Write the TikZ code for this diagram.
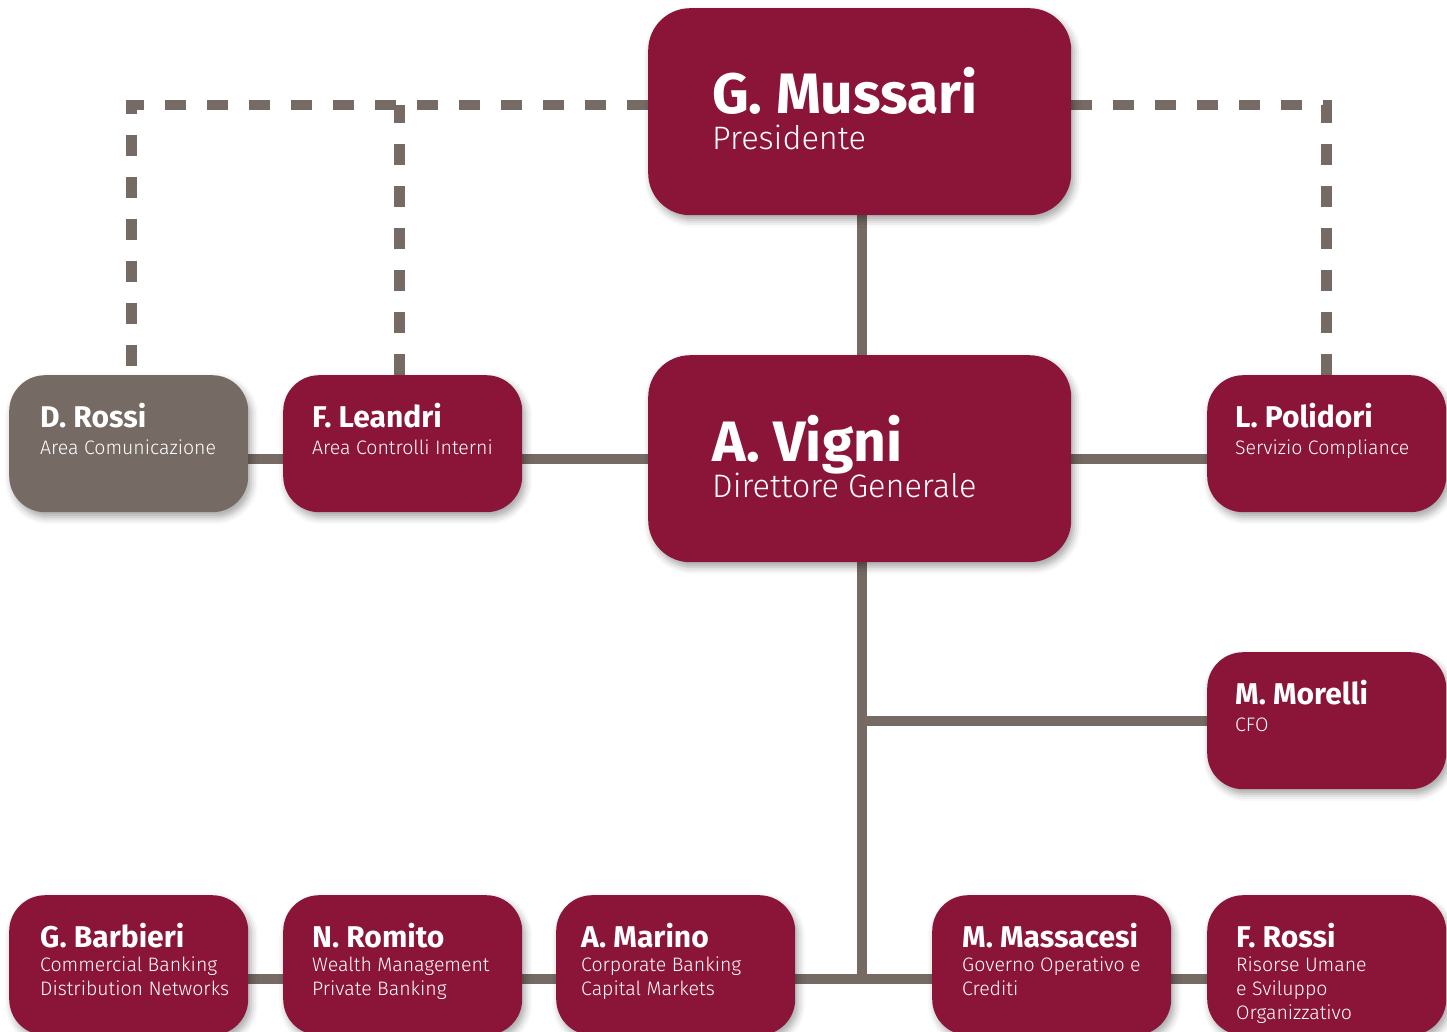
\documentclass[tikz,border=0pt]{standalone}
\usepackage{fontspec}
\setmainfont{Fira Sans}
\newfontfamily\lightfont{Fira Sans Light}
\usetikzlibrary{backgrounds,shadows.blur}

\definecolor{bordeaux}{HTML}{8A1538}
\definecolor{talpa}{HTML}{766A65}

\tikzset{
  box/.style={fill=bordeaux, rounded corners=36pt, minimum width=239pt, minimum height=137pt,
    inner sep=0pt, anchor=north west,
    blur shadow={shadow xshift=3pt, shadow yshift=-5pt, shadow blur radius=7pt, shadow opacity=35}},
  bigbox/.style={box, rounded corners=42pt, minimum width=423pt, minimum height=207pt},
  greybox/.style={box, fill=talpa},
  link/.style={draw=talpa, line width=10pt},
  dashlink/.style={draw=talpa, line width=10.5pt, dash pattern=on 21pt off 21pt},
  persona/.style={anchor=base west, inner sep=0pt, text=white, font=\bfseries\fontsize{30}{30}\selectfont},
  ruolo/.style={anchor=north west, inner sep=0pt, text=white, align=left,
    font=\lightfont\fontsize{19.5}{24}\selectfont, execute at begin node=\strut},
  bigpersona/.style={persona, font=\bfseries\fontsize{57}{57}\selectfont},
  bigruolo/.style={anchor=base west, inner sep=0pt, text=white, font=\lightfont\fontsize{32.5}{36}\selectfont},
}

\begin{document}
\begin{tikzpicture}[x=1pt,y=-1pt]
\useasboundingbox (0,0) rectangle (1447,1032);

% vertici
\node[bigbox] (mussari) at (648,8) {};
\node[bigbox] (vigni) at (648,355) {};

% staff
\node[greybox] (rossiD) at (9,375) {};
\node[box] (leandri) at (283,375) {};
\node[box] (polidori) at (1207,375) {};
\node[box] (morelli) at (1207,652) {};

% linee di business
\node[box, minimum height=140pt] (barbieri) at (9,895) {};
\node[box, minimum height=140pt] (romito) at (283,895) {};
\node[box, minimum height=140pt] (marino) at (556,895) {};
\node[box, minimum height=140pt] (massacesi) at (932,895) {};
\node[box, minimum height=140pt] (rossiF) at (1207,895) {};

% testi
\node[bigpersona] (mussariN) at ([shift={(64,106)}]mussari.north west) {G. Mussari};
\node[bigruolo] (mussariR) at ([shift={(64,142)}]mussari.north west) {Presidente};
\node[bigpersona] (vigniN) at ([shift={(64,106)}]vigni.north west) {A. Vigni};
\node[bigruolo] (vigniR) at ([shift={(64,142)}]vigni.north west) {Direttore Generale};

\node[persona] (rossiDN) at ([shift={(31,52)}]rossiD.north west) {D. Rossi};
\node[ruolo] (rossiDR) at ([shift={(31,62)}]rossiD.north west) {Area Comunicazione};
\node[persona] (leandriN) at ([shift={(29,52)}]leandri.north west) {F. Leandri};
\node[ruolo] (leandriR) at ([shift={(29,62)}]leandri.north west) {Area Controlli Interni};
\node[persona] (polidoriN) at ([shift={(28,52)}]polidori.north west) {L. Polidori};
\node[ruolo] (polidoriR) at ([shift={(28,62)}]polidori.north west) {Servizio Compliance};
\node[persona] (morelliN) at ([shift={(28,52)}]morelli.north west) {M. Morelli};
\node[ruolo] (morelliR) at ([shift={(28,62)}]morelli.north west) {CFO};

\node[persona] (barbieriN) at ([shift={(31,52)}]barbieri.north west) {G. Barbieri};
\node[ruolo] (barbieriR) at ([shift={(31,62)}]barbieri.north west) {Commercial Banking\\Distribution Networks};
\node[persona] (romitoN) at ([shift={(29,52)}]romito.north west) {N. Romito};
\node[ruolo] (romitoR) at ([shift={(29,62)}]romito.north west) {Wealth Management\\Private Banking};
\node[persona] (marinoN) at ([shift={(25,52)}]marino.north west) {A. Marino};
\node[ruolo] (marinoR) at ([shift={(25,62)}]marino.north west) {Corporate Banking\\Capital Markets};
\node[persona] (massacesiN) at ([shift={(30,52)}]massacesi.north west) {M. Massacesi};
\node[ruolo] (massacesiR) at ([shift={(30,62)}]massacesi.north west) {Governo Operativo e\\Crediti};
\node[persona] (rossiFN) at ([shift={(29,52)}]rossiF.north west) {F. Rossi};
\node[ruolo] (rossiFR) at ([shift={(29,62)}]rossiF.north west) {Risorse Umane\\e Sviluppo\\Organizzativo};

% collegamenti
\coordinate (dashtop) at (0,105);
\coordinate (midrow) at (0,459);
\coordinate (botrow) at (0,979);
\begin{scope}[on background layer]
\draw[dashlink] (mussari.west |- dashtop) -| ([xshift=3pt]rossiD.north);
\draw[dashlink] ([xshift=-3pt]leandri.north) -- ([xshift=-3pt]leandri.north |- dashtop);
\draw[dashlink] (mussari.east |- dashtop) -| (polidori.north);
\draw[link] ([xshift=2pt]mussari.south) -- ([xshift=2pt]vigni.north);
\draw[link] (rossiD.east |- midrow) -- (polidori.west |- midrow);
\draw[link] ([xshift=2pt]vigni.south) -- ([xshift=2pt]vigni.south |- botrow);
\draw[link] ([xshift=2pt]vigni.south |- morelli.west) -- (morelli.west);
\draw[link] (barbieri.east |- botrow) -- (rossiF.west |- botrow);
\end{scope}
\end{tikzpicture}
\end{document}
